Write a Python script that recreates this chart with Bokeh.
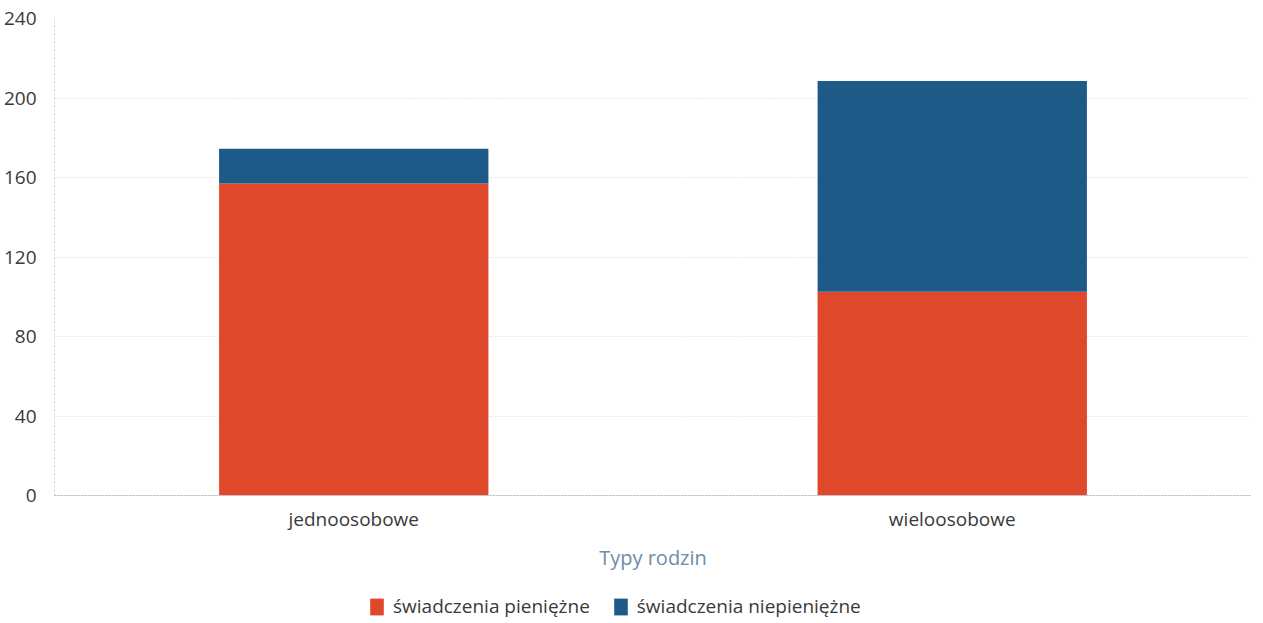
from bokeh.plotting import figure
from bokeh.layouts import column
from bokeh.models import FactorRange, Range1d, Legend, LegendItem, FixedTicker
from bokeh.embed import file_html
from bokeh.resources import INLINE

categories = ["jednoosobowe", "wieloosobowe"]
series = ["świadczenia pieniężne", "świadczenia niepieniężne"]
pieniezne = [157, 102.5]
niepieniezne = [17.5, 106]
y_ticks = [0, 40, 80, 120, 160, 200, 240]
colors = ["#e0482c", "#1d5a88"]

FONT = "Open Sans"

p = figure(x_range=FactorRange(*categories, range_padding=0),
           y_range=Range1d(0, 240),
           frame_width=1197, frame_height=477, output_backend="svg", toolbar_location=None,
           min_border_left=54, min_border_right=0, min_border_top=18, min_border_bottom=95)

source = dict(cat=categories, s0=pieniezne, s1=niepieniezne)
rs = p.vbar_stack(["s0", "s1"], x="cat", width=0.45, color=colors, source=source,
                  line_color=None)

p.outline_line_color = None
p.background_fill_color = "white"

# y axis
p.yaxis.ticker = FixedTicker(ticks=y_ticks)
p.yaxis.major_tick_line_color = None
p.yaxis.minor_tick_line_color = None
p.yaxis.axis_line_color = "#c5d0dc"
p.yaxis.axis_line_dash = "2 2"
p.yaxis.major_label_text_font = FONT
p.yaxis.major_label_text_font_size = "19px"
p.yaxis.major_label_text_color = "#3a3a3a"
p.yaxis.major_label_standoff = 12

# x axis
p.xaxis.major_tick_line_color = None
p.xaxis.minor_tick_line_color = None
p.xaxis.axis_line_color = "#a9b8c9"
p.xaxis.axis_line_dash = "2 1"
p.xaxis.major_label_text_font = FONT
p.xaxis.major_label_text_font_size = "19px"
p.xaxis.major_label_text_color = "#3a3a3a"
p.xaxis.major_label_standoff = 4
p.xaxis.axis_label = "Typy rodzin"
p.xaxis.axis_label_text_font = FONT
p.xaxis.axis_label_text_font_style = "normal"
p.xaxis.axis_label_text_font_size = "20px"
p.xaxis.axis_label_text_color = "#6d8cab"
p.xaxis.axis_label_standoff = 9

p.xgrid.grid_line_color = None
p.ygrid.grid_line_color = "#dfe4ea"
p.ygrid.grid_line_dash = "2 2"

# legend strip below the chart (proxy glyphs with no visible data)
q = figure(width=1251, height=30, output_backend="svg", toolbar_location=None,
           x_axis_location=None, y_axis_location=None,
           x_range=Range1d(0, 1), y_range=Range1d(0, 1),
           min_border_left=0, min_border_right=0, min_border_top=0, min_border_bottom=0)
q.outline_line_color = None
q.xgrid.grid_line_color = None
q.ygrid.grid_line_color = None
nan = float("nan")
dummies = [q.vbar(x=[nan], top=[nan], width=0.5, fill_color=colors[i], line_color=None)
           for i in range(2)]

legend = Legend(items=[LegendItem(label=series[i], renderers=[dummies[i]]) for i in range(2)],
                orientation="horizontal", location=(314, 1),
                label_text_font=FONT, label_text_font_size="19px",
                label_text_color="#3a3a3a", glyph_width=17, glyph_height=21,
                spacing=22, padding=2, margin=0, border_line_color=None,
                background_fill_alpha=0, label_standoff=8)
q.add_layout(legend, "center")

layout = column(p, q, spacing=0)
open("out.html", "w").write(file_html(layout, INLINE))
